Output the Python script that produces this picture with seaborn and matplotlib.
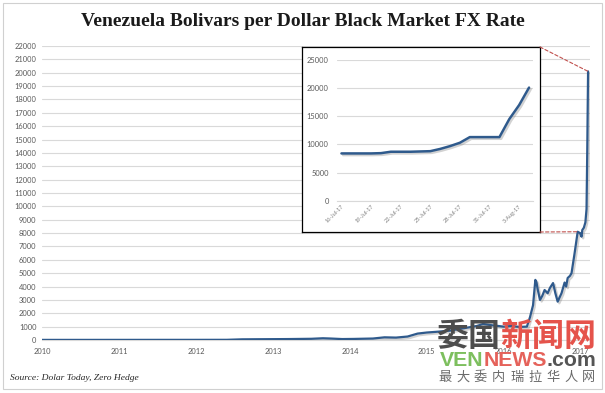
import matplotlib
matplotlib.use("Agg")
import matplotlib.pyplot as plt
import matplotlib.patheffects as pe
from matplotlib.patches import Rectangle, ConnectionPatch
import seaborn as sns
import pandas as pd

# ---------------- data ----------------
main_t = [2010.0, 2010.5, 2011.0, 2011.5, 2012.0, 2012.4, 2012.6, 2012.9, 2013.2,
          2013.5, 2013.65, 2013.75, 2013.9, 2014.05, 2014.3, 2014.45, 2014.6, 2014.75,
          2014.88, 2015.0, 2015.14, 2015.3, 2015.4, 2015.55, 2015.65, 2015.73, 2015.85,
          2016.0, 2016.1, 2016.2, 2016.3, 2016.34, 2016.38, 2016.41, 2016.425, 2016.44,
          2016.47, 2016.5, 2016.53, 2016.57, 2016.6, 2016.64, 2016.67, 2016.70, 2016.75,
          2016.79, 2016.81, 2016.83, 2016.86, 2016.88, 2016.92, 2016.96, 2016.99,
          2017.01, 2017.02, 2017.04, 2017.06, 2017.075, 2017.085, 2017.095]
main_v = [8, 8, 9, 10, 11, 14, 50, 60, 70,
          90, 130, 110, 70, 80, 110, 200, 180, 260,
          480, 560, 620, 700, 800, 950, 1050, 1200, 1100,
          1000, 1050, 980, 1000, 1700, 2600, 4500, 4300, 3800,
          3000, 3300, 3740, 3500, 3900, 4260, 3500, 2870, 3500,
          4300, 4000, 4640, 4800, 5000, 6500, 8100, 8000,
          7730, 8230, 8400, 8800, 9800, 14500, 20100]

inset_day = list(range(20))
inset_v = [8400, 8400, 8400, 8400, 8450, 8700, 8700, 8700, 8750, 8800,
           9200, 9700, 10300, 11300, 11300, 11300, 11300, 14500, 17000, 20100]
inset_tick_pos = [0, 3, 6, 9, 12, 15, 18]
inset_tick_labels = ['16-Jul-17', '19-Jul-17', '22-Jul-17', '25-Jul-17',
                     '28-Jul-17', '31-Jul-17', '3-Aug-17']
year_ticks = [2010, 2011, 2012, 2013, 2014, 2015, 2016, 2017]
main_yticks = list(range(0, 22001, 1000))
inset_yticks = [0, 5000, 10000, 15000, 20000, 25000]

title = "Venezuela Bolivars per Dollar Black Market FX Rate"
source = "Source: Dolar Today, Zero Hedge"

# ---------------- style ----------------
sns.set_style("white")
plt.rcParams['font.family'] = ['Lato', 'DejaVu Sans']

W, H = 605, 393
fig = plt.figure(figsize=(W / 100, H / 100), dpi=100)
fig.patch.set_facecolor('white')

def fx(px):
    return px / W

def fy(py):
    return 1 - py / H

LINE = '#2f5a8c'
GRID = '#d9d9d9'
TICKC = '#595959'
shadow = [pe.SimpleLineShadow(offset=(1.2, -1.2), shadow_color='#7f7f7f', alpha=0.35), pe.Normal()]

# outer border
fig.patches.append(Rectangle((fx(3), fy(389)), fx(599), (386) / H, transform=fig.transFigure,
                             fill=False, edgecolor='#d0d0d0', lw=0.8, zorder=0))

# ---------------- main axes ----------------
ax = fig.add_axes([fx(42), fy(340), fx(548), (340 - 46) / H])
df_main = pd.DataFrame({'t': main_t, 'v': main_v})
sns.lineplot(data=df_main, x='t', y='v', ax=ax, color=LINE, lw=1.6, sort=False,
             path_effects=shadow, zorder=3)
ax.set_xlim(2010, 2017.12)
ax.set_ylim(0, 22000)
ax.set_yticks(main_yticks)
ax.set_yticklabels([str(v) for v in main_yticks])
ax.set_xticks(year_ticks)
ax.set_xticklabels([str(y) for y in year_ticks])
ax.grid(axis='y', color=GRID, lw=0.8, zorder=0)
ax.grid(axis='x', visible=False)
for s in ['top', 'right', 'left']:
    ax.spines[s].set_visible(False)
ax.spines['bottom'].set_color(GRID)
ax.spines['bottom'].set_linewidth(0.8)
ax.tick_params(axis='both', length=0, labelsize=5.4, colors=TICKC, pad=4)
ax.tick_params(axis='x', pad=6)
ax.set_xlabel('')
ax.set_ylabel('')

# ---------------- inset ----------------
box = fig.add_axes([fx(302), fy(232), fx(238), (232 - 47) / H])
box.set_xticks([])
box.set_yticks([])
box.set_facecolor('white')
for s in box.spines.values():
    s.set_color('black')
    s.set_linewidth(0.9)
box.set_zorder(5)

iax = fig.add_axes([fx(337), fy(200.7), fx(196), (200.7 - 60) / H])
iax.set_zorder(6)
iax.patch.set_alpha(0)
df_in = pd.DataFrame({'d': inset_day, 'v': inset_v})
sns.lineplot(data=df_in, x='d', y='v', ax=iax, color=LINE, lw=1.8,
             path_effects=shadow, zorder=3)
iax.set_xlim(-0.45, 19.4)
iax.set_ylim(0, 25000)
iax.set_yticks(inset_yticks)
iax.set_yticklabels([str(v) for v in inset_yticks])
iax.set_xticks(inset_tick_pos)
iax.set_xticklabels(inset_tick_labels, rotation=45, ha='right', rotation_mode='anchor')
iax.grid(axis='y', color=GRID, lw=0.8, zorder=0)
iax.grid(axis='x', visible=False)
for s in ['top', 'right', 'left']:
    iax.spines[s].set_visible(False)
iax.spines['bottom'].set_color(GRID)
iax.spines['bottom'].set_linewidth(0.8)
iax.tick_params(axis='y', length=0, labelsize=5.4, colors=TICKC, pad=6)
iax.tick_params(axis='x', length=0, labelsize=4.0, colors='#7f7f7f', pad=2)
iax.set_xlabel('')
iax.set_ylabel('')

# connector lines
idx_lo = next(i for i, v in enumerate(main_v) if v >= 8000)
for ya, (xt, yv) in [(1, (main_t[-1], main_v[-1])), (0, (main_t[idx_lo], main_v[idx_lo]))]:
    cp = ConnectionPatch(xyA=(1, ya), coordsA=box.transAxes, xyB=(xt, yv), coordsB=ax.transData,
                         color='#c0504d', lw=0.8, ls=(0, (3, 2)), zorder=7)
    fig.add_artist(cp)

# ---------------- texts ----------------
fig.text(0.5, fy(22), title, ha='center', va='center', fontsize=14, fontweight='bold',
         family=['Liberation Serif', 'DejaVu Serif'], color='#1a1a1a')
fig.text(fx(10), fy(378), source, ha='left', va='center', fontsize=6.8, style='italic',
         family=['Liberation Serif', 'DejaVu Serif'], color='#262626')

# watermark
fig.canvas.draw()
renderer = fig.canvas.get_renderer()

def seq_text(x_px, y_px, parts, **kw):
    x = x_px
    for s, c in parts:
        t = fig.text(fx(x), fy(y_px), s, color=c, ha='left', va='center', zorder=20, **kw)
        x += t.get_window_extent(renderer).width

cjk = ['Noto Sans CJK SC', 'DejaVu Sans']
seq_text(436, 337, [('委国', '#4d4d4d'), ('新闻网', '#e5534b')], fontsize=23, fontweight='bold', family=cjk)
seq_text(440, 361, [('VEN', '#7dbf5e'), ('NEWS', '#e5625a'), ('.com', '#555555')],
         fontsize=15.3, fontweight='bold', family=['Liberation Sans', 'DejaVu Sans'])
for i, ch in enumerate('最大委内瑞拉华人网'):
    fig.text(fx(438 + i * 18.0), fy(377), ch, ha='left', va='center', fontsize=9.5,
             color='#6b6b6b', family=cjk, zorder=20)

fig.savefig('out.png', dpi=100, facecolor='white')
